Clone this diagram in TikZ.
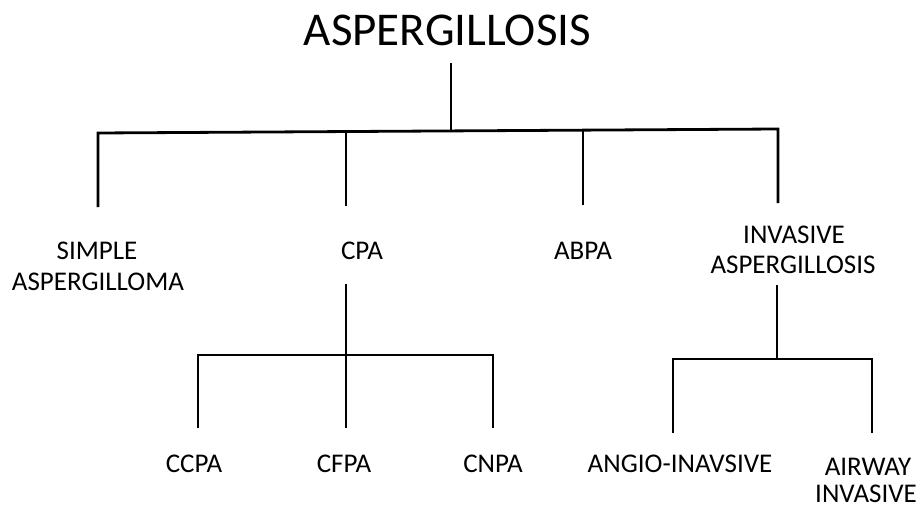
\documentclass[tikz,border=0pt]{standalone}
\usepackage{fontspec}
\setmainfont{Carlito}
\begin{document}
\begin{tikzpicture}[x=1pt,y=-1pt,
  lbl/.style={anchor=base,inner sep=0pt,font=\fontsize{27}{31}\selectfont},
  ttl/.style={anchor=base,inner sep=0pt,font=\fontsize{47}{52}\selectfont},
  ln/.style={line width=2.8pt,line join=miter}]
\useasboundingbox[fill=white] (0,0) rectangle (921,508);
% labels
\node[ttl] (root) at (447.5,46) {ASPERGILLOSIS};
\node[lbl] (sa1) at (97,259) {SIMPLE};
\node[lbl] (sa2) at (98,290) {ASPERGILLOMA};
\node[lbl] (cpa) at (362,259) {CPA};
\node[lbl] (abpa) at (583,259) {ABPA};
\node[lbl] (ia1) at (794,243) {INVASIVE};
\node[lbl] (ia2) at (793,273) {ASPERGILLOSIS};
\node[lbl] (ccpa) at (194,472) {CCPA};
\node[lbl] (cfpa) at (344,472) {CFPA};
\node[lbl] (cnpa) at (493,472) {CNPA};
\node[lbl] (angio) at (680,472) {ANGIO-INAVSIVE};
\node[lbl] (aw1) at (868,475) {AIRWAY};
\node[lbl] (aw2) at (866,502) {INVASIVE};
% junction coordinates
\coordinate (r0) at (451,63);
\coordinate (r1) at (451,131);
\coordinate (bL) at (98,133);
\coordinate (bR) at (778,129);
\coordinate (d1) at (98,207);
\coordinate (c0) at (346,132);
\coordinate (d2) at (346,206);
\coordinate (a0) at (583,131);
\coordinate (d3) at (583,205);
\coordinate (d4) at (778,203);
\coordinate (p0) at (346,284);
\coordinate (p1) at (346,355);
\coordinate (pL) at (198,355);
\coordinate (pR) at (493,355);
\coordinate (q1) at (198,428);
\coordinate (q2) at (346,428);
\coordinate (q3) at (493,428);
\coordinate (i0) at (777,285);
\coordinate (i1) at (777,359);
\coordinate (iL) at (673,359);
\coordinate (iR) at (872,359);
\coordinate (j1) at (673,433);
\coordinate (j2) at (872,433);
% connectors
\draw[ln] (r0) -- (r1);
\draw[ln] (d1) -- (bL) -- (bR) -- (d4);
\draw[ln] (c0) -- (d2);
\draw[ln] (a0) -- (d3);
\draw[ln] (p0) -- (q2);
\draw[ln] (q1) -- (pL) -- (pR) -- (q3);
\draw[ln] (i0) -- (i1);
\draw[ln] (j1) -- (iL) -- (iR) -- (j2);
\end{tikzpicture}
\end{document}
